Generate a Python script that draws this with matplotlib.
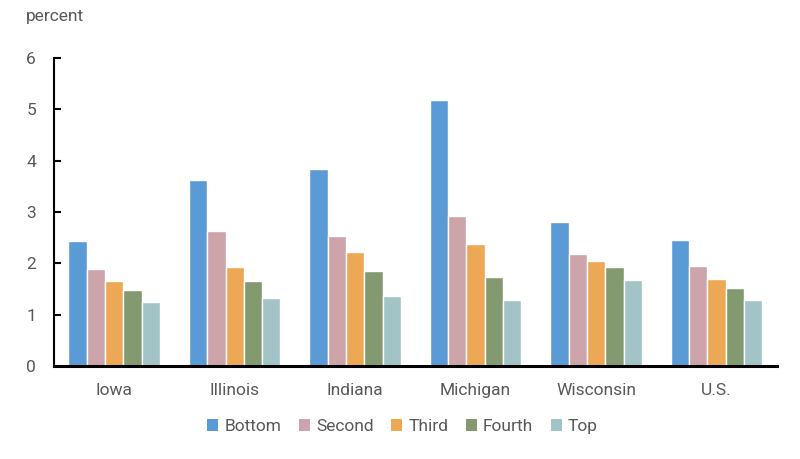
import numpy as np
import matplotlib
matplotlib.use('Agg')
import matplotlib.pyplot as plt
from matplotlib.patches import Patch

plt.rcParams['font.family'] = ['Roboto', 'DejaVu Sans']

# Data
states = ['Iowa', 'Illinois', 'Indiana', 'Michigan', 'Wisconsin', 'U.S.']
series = ['Bottom', 'Second', 'Third', 'Fourth', 'Top']
bottom = [2.43, 3.62, 3.84, 5.18, 2.80, 2.45]
second = [1.89, 2.63, 2.53, 2.92, 2.18, 1.94]
third = [1.66, 1.92, 2.22, 2.38, 2.05, 1.69]
fourth = [1.48, 1.66, 1.85, 1.73, 1.93, 1.52]
top = [1.25, 1.32, 1.36, 1.29, 1.67, 1.28]
colors = ['#5b9bd5', '#cda4a9', '#eda856', '#839a70', '#a2c4c6']

values = [bottom, second, third, fourth, top]
text_color = '#595959'
fs = 12.5

fig = plt.figure(figsize=(8, 4.59), dpi=100)
ax = fig.add_axes([0.0675, 0.2026, 0.9035, 0.671])

x = np.arange(len(states))
slot = 0.152
for i, (name, vals, c) in enumerate(zip(series, values, colors)):
    ax.bar(x + (i - 2) * slot, vals, width=slot, color=c,
           edgecolor='white', linewidth=1.0, label=name)

ax.set_xlim(-0.5, len(states) - 0.5)
ax.set_ylim(0, 6)
ax.set_yticks(range(0, 7))
ax.set_xticks(x)
ax.set_xticklabels(states)

for s in ['top', 'right']:
    ax.spines[s].set_visible(False)
ax.spines['bottom'].set_linewidth(2.2)
ax.spines['left'].set_linewidth(1.5)
ax.tick_params(axis='y', direction='in', length=5, width=1.5, pad=13,
               labelsize=fs, labelcolor=text_color)
ax.tick_params(axis='x', length=0, pad=12, labelsize=fs,
               labelcolor=text_color)

fig.text(0.032, 0.963, 'percent', fontsize=fs, color=text_color,
         ha='left', va='center')

handles = [Patch(facecolor=c, edgecolor='none') for c in colors]
fig.legend(handles, series, loc='center', bbox_to_anchor=(0.503, 0.071),
           ncol=5, frameon=False, fontsize=fs, labelcolor=text_color,
           handlelength=0.65, handleheight=0.65, handletextpad=0.35,
           columnspacing=1.0)

fig.savefig('out.png', dpi=100)
